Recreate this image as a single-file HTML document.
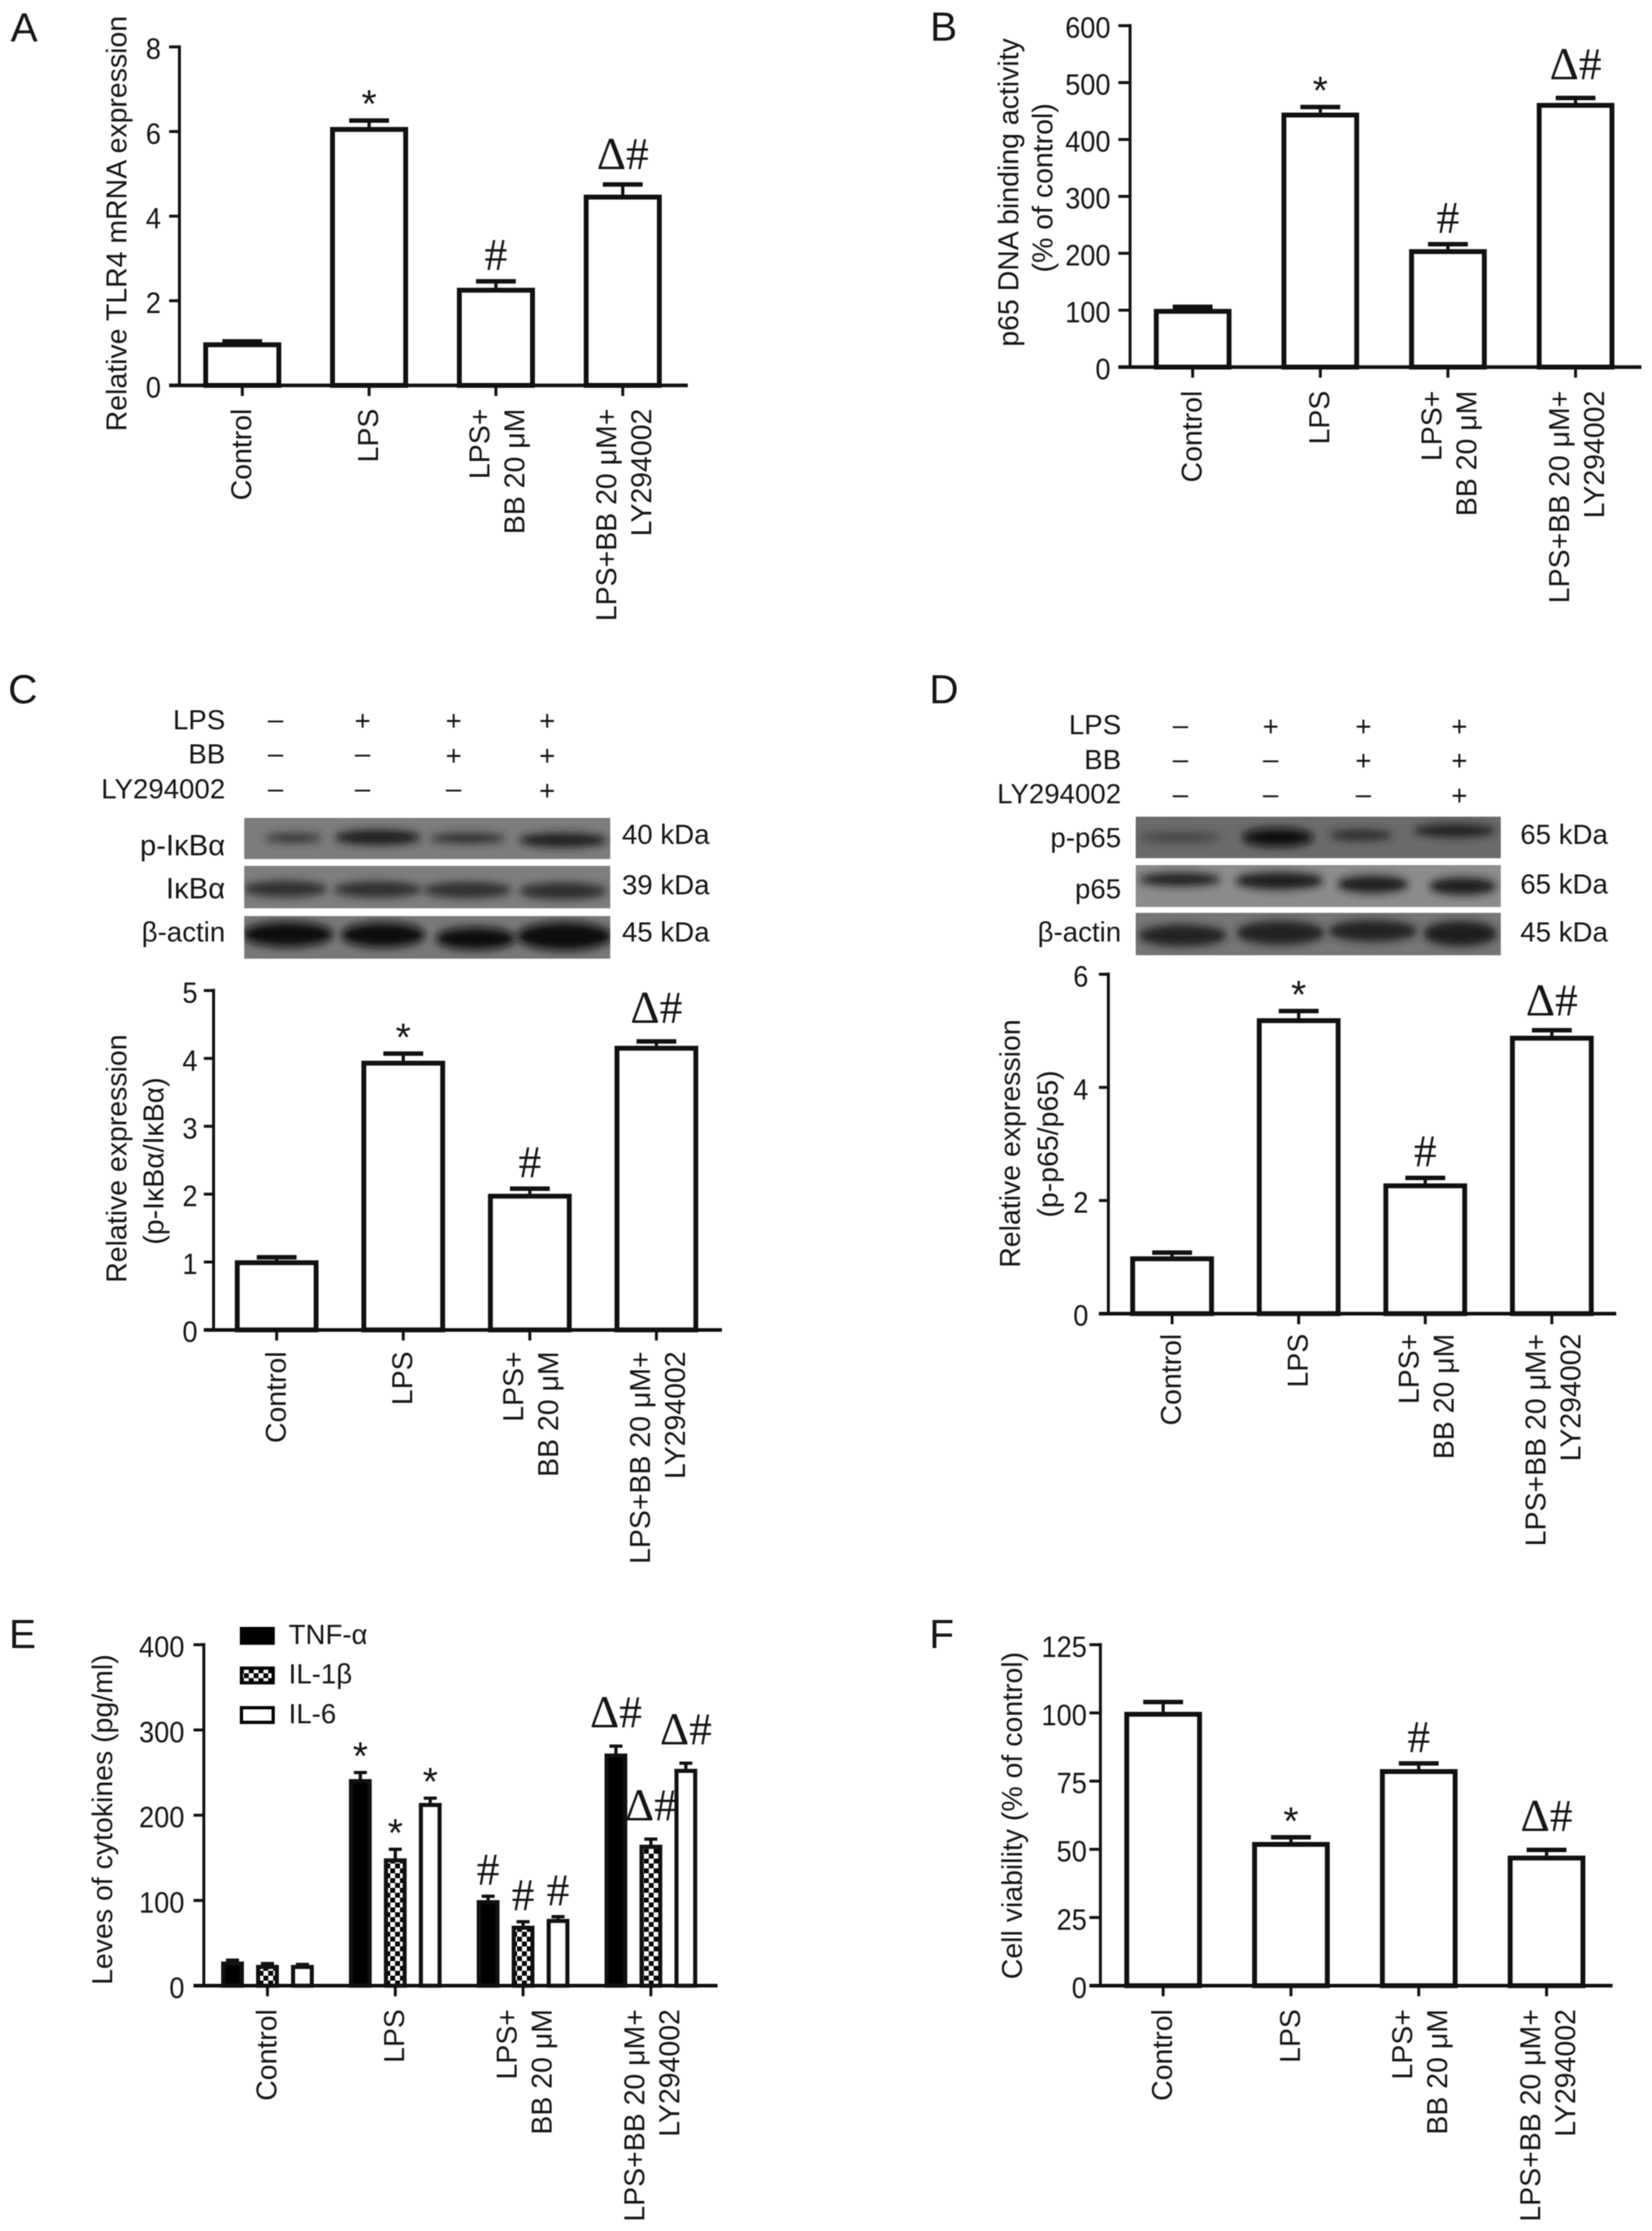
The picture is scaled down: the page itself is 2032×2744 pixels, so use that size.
<!DOCTYPE html>
<html lang="en">
<head>
<meta charset="utf-8">
<title>TLR4 / NF-κB multi-panel figure</title>
<style>
html,body{margin:0;padding:0;background:#fff;}
body{width:2032px;height:2744px;overflow:hidden;}
#figure{display:block;filter:blur(0.6px);}
text{font-family:"Liberation Sans",sans-serif;fill:#161616;}
</style>
</head>
<body>
<svg id="figure" xmlns="http://www.w3.org/2000/svg" width="2032" height="2744" viewBox="0 0 2032 2744">
  <defs>
    <filter id="band-blur" x="-30%" y="-60%" width="160%" height="220%"><feGaussianBlur stdDeviation="7 16"/></filter>
    <pattern id="checker" patternUnits="userSpaceOnUse" width="12" height="12">
      <rect width="12" height="12" fill="#000"/>
      <rect x="0" y="0" width="6" height="6" fill="#fff"/>
      <rect x="6" y="6" width="6" height="6" fill="#fff"/>
    </pattern>
    <clipPath id="clip-c1"><rect x="462" y="558" width="693" height="152"/></clipPath>
    <clipPath id="clip-c2"><rect x="462" y="735" width="693" height="157"/></clipPath>
    <clipPath id="clip-c3"><rect x="462" y="920" width="693" height="158"/></clipPath>
    <clipPath id="clip-d1"><rect x="586" y="553" width="691" height="154"/></clipPath>
    <clipPath id="clip-d2"><rect x="586" y="732" width="691" height="155"/></clipPath>
    <clipPath id="clip-d3"><rect x="586" y="908" width="691" height="157"/></clipPath>
  </defs>

  <g font-size="50">
    <text x="13" y="51" font-size="50">A</text>
    <text x="1144" y="50" font-size="50">B</text>
    <text x="10" y="865" font-size="50">C</text>
    <text x="1143" y="865" font-size="50">D</text>
    <text x="11" y="2027" font-size="50">E</text>
    <text x="1143" y="2027" font-size="50">F</text>
  </g>

  <!-- Panel C blot -->
  <g transform="translate(0,820) scale(0.65,0.3333)">
    <g clip-path="url(#clip-c1)">
      <rect x="462" y="558" width="693" height="152" fill="#7c7c7c"/>
      <g filter="url(#band-blur)">
        <ellipse cx="555" cy="632" rx="55" ry="16" fill="#2f2f2f"/>
        <ellipse cx="715" cy="630" rx="82" ry="28" fill="#1f1f1f"/>
        <ellipse cx="885" cy="633" rx="72" ry="18" fill="#2c2c2c"/>
        <ellipse cx="1065" cy="640" rx="84" ry="26" fill="#1f1f1f"/>
      </g>
    </g>
    <g clip-path="url(#clip-c2)">
      <rect x="462" y="735" width="693" height="157" fill="#7e7e7e"/>
      <g filter="url(#band-blur)">
        <ellipse cx="540" cy="820" rx="80" ry="30" fill="#2d2d2d"/>
        <ellipse cx="715" cy="822" rx="84" ry="30" fill="#2d2d2d"/>
        <ellipse cx="885" cy="824" rx="84" ry="30" fill="#2d2d2d"/>
        <ellipse cx="1065" cy="828" rx="84" ry="32" fill="#2d2d2d"/>
      </g>
    </g>
    <g clip-path="url(#clip-c3)">
      <rect x="462" y="920" width="693" height="158" fill="#787878"/>
      <g filter="url(#band-blur)">
        <ellipse cx="545" cy="988" rx="86" ry="46" fill="#101010"/>
        <ellipse cx="725" cy="990" rx="80" ry="46" fill="#101010"/>
        <ellipse cx="900" cy="1003" rx="76" ry="42" fill="#101010"/>
        <ellipse cx="1068" cy="995" rx="90" ry="52" fill="#101010"/>
      </g>
    </g>
  </g>
  <g font-size="34">
    <text x="277" y="897" text-anchor="end">LPS</text>
    <text x="277" y="939" text-anchor="end">BB</text>
    <text x="277" y="982" text-anchor="end">LY294002</text>
    <text x="277" y="1052" text-anchor="end" font-size="36">p-IκBα</text>
    <text x="277" y="1105" text-anchor="end" font-size="36">IκBα</text>
    <text x="277" y="1158" text-anchor="end">β-actin</text>
    <text x="765" y="1038">40 kDa</text>
    <text x="765" y="1100">39 kDa</text>
    <text x="765" y="1158">45 kDa</text>
    <g text-anchor="middle" fill="#333">
      <text x="339" y="896">–</text><text x="446" y="898">+</text><text x="558" y="898">+</text><text x="673" y="898">+</text>
      <text x="339" y="938">–</text><text x="446" y="938">–</text><text x="558" y="941">+</text><text x="673" y="941">+</text>
      <text x="339" y="981">–</text><text x="446" y="981">–</text><text x="558" y="981">–</text><text x="673" y="984">+</text>
    </g>
  </g>

  <!-- Panel D blot -->
  <g transform="translate(1016,820) scale(0.65,0.3333)">
    <g clip-path="url(#clip-d1)">
      <rect x="586" y="553" width="691" height="154" fill="#6b6b6b"/>
      <g filter="url(#band-blur)">
        <ellipse cx="670" cy="630" rx="78" ry="20" fill="#444"/>
        <ellipse cx="855" cy="630" rx="68" ry="34" fill="#111"/>
        <ellipse cx="1012" cy="622" rx="60" ry="20" fill="#2c2c2c"/>
        <ellipse cx="1190" cy="605" rx="78" ry="25" fill="#222"/>
      </g>
    </g>
    <g clip-path="url(#clip-d2)">
      <rect x="586" y="732" width="691" height="155" fill="#8c8c8c"/>
      <g filter="url(#band-blur)">
        <ellipse cx="670" cy="785" rx="78" ry="24" fill="#1f1f1f"/>
        <ellipse cx="858" cy="790" rx="84" ry="32" fill="#1f1f1f"/>
        <ellipse cx="1035" cy="803" rx="68" ry="32" fill="#1c1c1c"/>
        <ellipse cx="1205" cy="810" rx="64" ry="32" fill="#1c1c1c"/>
      </g>
    </g>
    <g clip-path="url(#clip-d3)">
      <rect x="586" y="908" width="691" height="157" fill="#767676"/>
      <g filter="url(#band-blur)">
        <ellipse cx="675" cy="992" rx="84" ry="40" fill="#222"/>
        <ellipse cx="860" cy="982" rx="84" ry="44" fill="#222"/>
        <ellipse cx="1035" cy="975" rx="84" ry="40" fill="#222"/>
        <ellipse cx="1200" cy="985" rx="70" ry="46" fill="#1c1c1c"/>
      </g>
    </g>
  </g>
  <g font-size="34">
    <text x="1379" y="903" text-anchor="end">LPS</text>
    <text x="1379" y="946" text-anchor="end">BB</text>
    <text x="1379" y="988" text-anchor="end">LY294002</text>
    <text x="1379" y="1042" text-anchor="end">p-p65</text>
    <text x="1379" y="1105" text-anchor="end">p65</text>
    <text x="1379" y="1158" text-anchor="end">β-actin</text>
    <text x="1870" y="1038">65 kDa</text>
    <text x="1870" y="1099">65 kDa</text>
    <text x="1870" y="1158">45 kDa</text>
    <g text-anchor="middle" fill="#333">
      <text x="1452" y="903">–</text><text x="1563" y="905">+</text><text x="1677" y="905">+</text><text x="1795" y="905">+</text>
      <text x="1452" y="945">–</text><text x="1563" y="945">–</text><text x="1677" y="947">+</text><text x="1795" y="947">+</text>
      <text x="1452" y="988">–</text><text x="1563" y="988">–</text><text x="1677" y="988">–</text><text x="1795" y="990">+</text>
    </g>
  </g>

  <g id="charts"></g>
</svg>

<script>
const categoryLabels = [['Control'], ['LPS'], ['LPS+', 'BB 20 μM'], ['LPS+BB 20 μM+', 'LY294002']];
const significance = ['', '*', '#', 'Δ#'];

const panelATicks = [0, 2, 4, 6, 8];
const panelAValues = [0.96, 6.05, 2.25, 4.45];
const panelAErrors = [0.08, 0.21, 0.21, 0.3];

const panelBTicks = [0, 100, 200, 300, 400, 500, 600];
const panelBValues = [98, 443, 203, 460];
const panelBErrors = [8, 14, 13, 13];

const panelCTicks = [0, 1, 2, 3, 4, 5];
const panelCValues = [0.99, 3.93, 1.97, 4.15];
const panelCErrors = [0.08, 0.14, 0.11, 0.1];

const panelDTicks = [0, 2, 4, 6];
const panelDValues = [0.97, 5.18, 2.26, 4.87];
const panelDErrors = [0.11, 0.17, 0.14, 0.14];

const panelETicks = [0, 100, 200, 300, 400];
const panelESeriesNames = ['TNF-α', 'IL-1β', 'IL-6'];
const panelETnfValues = [26, 240, 98, 270];
const panelETnfErrors = [4, 10, 7, 11];
const panelEIl1Values = [22, 147, 68, 163];
const panelEIl1Errors = [4, 13, 7, 9];
const panelEIl6Values = [22, 212, 76, 252];
const panelEIl6Errors = [3, 8, 5, 9];

const panelFTicks = [0, 25, 50, 75, 100, 125];
const panelFValues = [99.5, 51.8, 78.5, 46.8];
const panelFErrors = [4.5, 2.6, 3, 3];

const NS = 'http://www.w3.org/2000/svg';
const root = document.getElementById('charts');
const GAPS = {'*': 4, '#': 14, 'Δ#': 23};

function add(parent, tag, attrs, name) {
  const el = document.createElementNS(NS, tag);
  for (const k in attrs) el.setAttribute(k, attrs[k]);
  
  
  parent.appendChild(el);
  return el;
}

function label(parent, str, attrs, name) {
  const el = add(parent, 'text', attrs, name);
  el.textContent = str;
  return el;
}

function yScale(L, ticks) {
  const lo = ticks[0], hi = ticks[ticks.length - 1];
  return v => L.base - (v - lo) / (hi - lo) * (L.base - L.top);
}

function drawAxes(g, L, ticks, y) {
  add(g, 'line', {x1: L.axisX, x2: L.axisX, y1: L.top - 2, y2: L.base + 2, stroke: '#111', 'stroke-width': 3.6}, 'y-axis-line');
  add(g, 'line', {x1: L.tickLeft, x2: L.right, y1: L.base, y2: L.base, stroke: '#111', 'stroke-width': 4.5}, 'x-axis-line');
  ticks.forEach(t => {
    add(g, 'line', {x1: L.tickLeft, x2: L.axisX, y1: y(t), y2: y(t), stroke: '#111', 'stroke-width': 3.6}, 'y-tick');
    const s = String(t);
    label(g, s, {x: L.labelEnd, y: y(t) + 15, 'text-anchor': 'end', 'font-size': 36, textLength: s.length * 18.6, lengthAdjust: 'spacingAndGlyphs'}, 'y-tick-label');
  });
  categoryLabels.forEach((lines, i) => {
    const cx = L.first + i * L.step;
    add(g, 'line', {x1: cx, x2: cx, y1: L.base, y2: L.base + 13, stroke: '#111', 'stroke-width': 3.6}, 'x-tick');
    const offs = lines.length === 1 ? [11] : [-8, 35];
    lines.forEach((s, j) => {
      const bx = cx + offs[j], by = L.base + L.labelGap;
      label(g, s, {x: bx, y: by, 'text-anchor': 'end', 'font-size': 35, transform: 'rotate(-90 ' + bx + ' ' + by + ')'}, 'x-category-label');
    });
  });
  L.titles.forEach(t => {
    label(g, t.text, {x: t.x, y: t.cy, 'text-anchor': 'middle', 'font-size': 35, transform: 'rotate(-90 ' + t.x + ' ' + t.cy + ')'}, 'y-axis-title');
  });
}

function drawAnnotation(g, sym, cx, yTop, deltaGap) {
  if (!sym) return;
  const isStar = sym === '*';
  const gap = sym === 'Δ#' && deltaGap ? deltaGap : GAPS[sym];
  label(g, sym, {
    x: cx, y: yTop - gap, 'text-anchor': 'middle',
    'font-size': isStar ? 48 : 56,
    style: isStar ? '' : 'font-family:"Liberation Serif",serif'
  }, 'significance-marker');
}

function drawBar(g, cx, value, err, y, w, opts) {
  const half = w / 2 - opts.sw / 2;
  const yv = y(value), ye = y(value + err), y0 = y(0);
  add(g, 'line', {x1: cx, x2: cx, y1: yv, y2: ye, stroke: '#111', 'stroke-width': opts.ew}, 'error-bar-stem');
  add(g, 'line', {x1: cx - opts.cap / 2, x2: cx + opts.cap / 2, y1: ye, y2: ye, stroke: '#111', 'stroke-width': opts.ct}, 'error-bar-cap');
  add(g, 'rect', {x: cx - half, y: yv, width: half * 2, height: y0 - yv, fill: opts.fill, stroke: '#111', 'stroke-width': opts.sw}, 'bar');
  return ye;
}

function simplePanel(name, L, ticks, values, errors) {
  const g = add(root, 'g', {}, name);
  const y = yScale(L, ticks);
  values.forEach((v, i) => {
    const cx = L.first + i * L.step;
    const ye = drawBar(g, cx, v, errors[i], y, L.barW, {sw: 6, ew: 4, cap: 49, ct: 5.5, fill: '#fff'});
    drawAnnotation(g, significance[i], cx, ye, L.deltaGap);
  });
  drawAxes(g, L, ticks, y);
}

simplePanel('panel-a-tlr4-chart', {
  axisX: 220.7, top: 57.7, base: 474, tickLeft: 208, right: 846, labelEnd: 198,
  first: 298, step: 156, barW: 96, labelGap: 28.6, deltaGap: 19,
  titles: [{text: 'Relative TLR4 mRNA expression', x: 155.5, cy: 275}]
}, panelATicks, panelAValues, panelAErrors);

simplePanel('panel-b-p65-dna-chart', {
  axisX: 1390, top: 31.6, base: 451.5, tickLeft: 1375.6, right: 2019, labelEnd: 1366,
  first: 1467, step: 157, barW: 95.5, labelGap: 29,
  titles: [{text: 'p65 DNA binding activity', x: 1252.5, cy: 236.7}, {text: '(% of control)', x: 1294.6, cy: 231}]
}, panelBTicks, panelBValues, panelBErrors);

simplePanel('panel-c-ikba-chart', {
  axisX: 262.7, top: 1218.3, base: 1635.7, tickLeft: 250.7, right: 888, labelEnd: 243,
  first: 340.3, step: 155.7, barW: 103, labelGap: 26.4,
  titles: [{text: 'Relative expression', x: 155.5, cy: 1425}, {text: '(p-IκBα/IκBα)', x: 201, cy: 1428}]
}, panelCTicks, panelCValues, panelCErrors);

simplePanel('panel-d-p65-chart', {
  axisX: 1363.3, top: 1198.3, base: 1615.7, tickLeft: 1351.7, right: 1988, labelEnd: 1338.7,
  first: 1441.7, step: 155.7, barW: 103, labelGap: 24.7, deltaGap: 18,
  titles: [{text: 'Relative expression', x: 1254.5, cy: 1406.5}, {text: '(p-p65/p65)', x: 1301, cy: 1407}]
}, panelDTicks, panelDValues, panelDErrors);

simplePanel('panel-f-viability-chart', {
  axisX: 1353.5, top: 2022.9, base: 2442.3, tickLeft: 1340, right: 1983.5, labelEnd: 1336.8,
  first: 1430.7, step: 157.2, barW: 95.5, labelGap: 28.8,
  titles: [{text: 'Cell viability (% of control)', x: 1257, cy: 2233}]
}, panelFTicks, panelFValues, panelFErrors);

(function panelE() {
  const L = {
    axisX: 250.7, top: 2022.9, base: 2442.3, tickLeft: 238, right: 882.6, labelEnd: 226.8,
    first: 329, step: 157.2, barW: 28, labelGap: 28.8,
    titles: [{text: 'Leves of cytokines (pg/ml)', x: 138, cy: 2238}]
  };
  const g = add(root, 'g', {}, 'panel-e-cytokines-chart');
  const y = yScale(L, panelETicks);
  const valueSets = [panelETnfValues, panelEIl1Values, panelEIl6Values];
  const errorSets = [panelETnfErrors, panelEIl1Errors, panelEIl6Errors];
  const fills = ['#000', 'url(#checker)', '#fff'];
  const seriesOffset = 43;
  valueSets.forEach((vals, s) => {
    vals.forEach((v, i) => {
      const cx = L.first + i * L.step + (s - 1) * seriesOffset;
      const ye = drawBar(g, cx, v, errorSets[s][i], y, L.barW, {sw: 5, ew: 4, cap: 16, ct: 4, fill: fills[s]});
      drawAnnotation(g, significance[i], cx, ye);
    });
  });
  drawAxes(g, L, panelETicks, y);

  const legend = add(g, 'g', {}, 'legend');
  const legendBaseline = 2022;
  const legendRowGap = 48.7;
  panelESeriesNames.forEach((name, s) => {
    const base = legendBaseline + s * legendRowGap;
    const entry = add(legend, 'g', {}, 'legend-entry');
    add(entry, 'rect', {x: 297, y: base - 19, width: 39, height: 18, fill: fills[s], stroke: '#000', 'stroke-width': 4}, 'legend-swatch');
    label(entry, name, {x: 355, y: base, 'font-size': 34}, 'legend-label');
  });
})();
</script>
</body>
</html>
